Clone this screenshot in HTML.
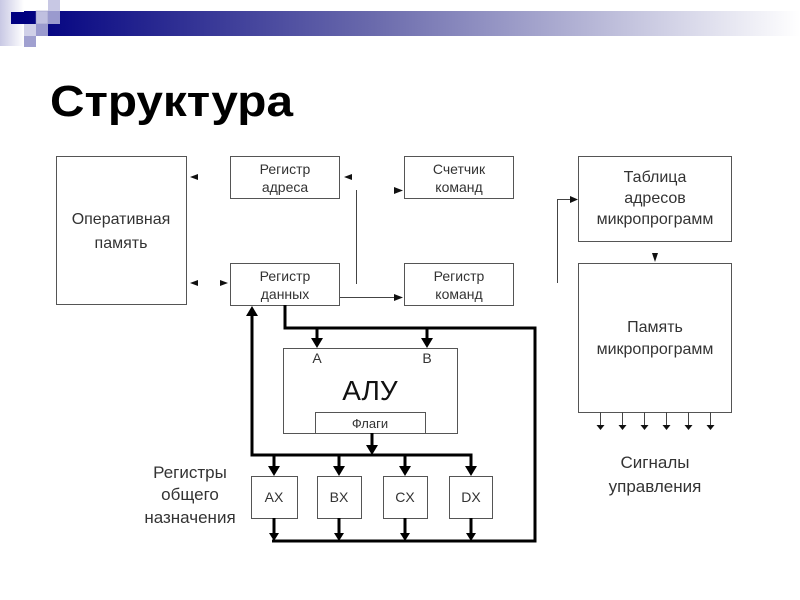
<!DOCTYPE html>
<html><head><meta charset="utf-8"><style>
html,body{margin:0;padding:0;background:#fff;width:800px;height:600px;overflow:hidden}
svg text{font-family:"Liberation Sans","DejaVu Sans",sans-serif;fill:#333}
</style></head><body>
<svg width="800" height="600" viewBox="0 0 800 600" xmlns="http://www.w3.org/2000/svg">
<defs>
<linearGradient id="g" x1="0" x2="1" y1="0" y2="0">
<stop offset="0" stop-color="#000080"/><stop offset="0.45" stop-color="#6a6aac"/><stop offset="1" stop-color="#ffffff"/>
</linearGradient>
<linearGradient id="g2" x1="0" x2="1"><stop offset="0" stop-color="#c8c8e4"/><stop offset="1" stop-color="#fff"/></linearGradient>
</defs>
<rect x="0" y="0" width="24" height="46" fill="url(#g2)"/>
<rect x="24" y="11" width="776" height="25" fill="url(#g)"/>
<rect x="11" y="12" width="13" height="12" fill="#000080"/>
<rect x="48" y="0" width="12" height="11" fill="#c8c8e4"/>
<rect x="36" y="11" width="12" height="13" fill="#c0c0e0" stroke="#9090c0" stroke-width="0.5"/>
<rect x="48" y="11" width="12" height="13" fill="#9a9ace"/>
<rect x="24" y="24" width="12" height="12" fill="#d0d0e8"/>
<rect x="36" y="24" width="12" height="12" fill="#9a9ace"/>
<rect x="24" y="36" width="12" height="11" fill="#a0a0d0"/>
<text x="50" y="116" font-size="44" font-weight="bold" style="fill:#000" textLength="243" lengthAdjust="spacingAndGlyphs">Структура</text>

<g fill="none" stroke="#555" stroke-width="1">
<rect x="56.5" y="156.5" width="130" height="148"/>
<rect x="230.5" y="156.5" width="109" height="42"/>
<rect x="404.5" y="156.5" width="109" height="42"/>
<rect x="230.5" y="263.5" width="109" height="42"/>
<rect x="404.5" y="263.5" width="109" height="42"/>
<rect x="578.5" y="156.5" width="153" height="85"/>
<rect x="578.5" y="263.5" width="153" height="149"/>
<rect x="283.5" y="348.5" width="174" height="85"/>
<rect x="315.5" y="412.5" width="110" height="21"/>
<rect x="251.5" y="476.5" width="46" height="42"/>
<rect x="317.5" y="476.5" width="44" height="42"/>
<rect x="383.5" y="476.5" width="44" height="42"/>
<rect x="449.5" y="476.5" width="43" height="42"/>
</g>
<g stroke="#444" stroke-width="1" fill="none">
<line x1="356.5" y1="190" x2="356.5" y2="284"/>
<line x1="340" y1="297.5" x2="398" y2="297.5"/>
<line x1="396" y1="190.5" x2="398" y2="190.5"/>
<polyline points="557.5,283 557.5,199.5 572,199.5"/>
<line x1="600.5" y1="412" x2="600.5" y2="426"/>
<line x1="622.5" y1="412" x2="622.5" y2="426"/>
<line x1="644.5" y1="412" x2="644.5" y2="426"/>
<line x1="666.5" y1="412" x2="666.5" y2="426"/>
<line x1="688.5" y1="412" x2="688.5" y2="426"/>
<line x1="710.5" y1="412" x2="710.5" y2="426"/>
</g>
<g fill="#111">
<polygon points="190,177 198,174 198,180"/>
<polygon points="190,283 198,280 198,286"/>
<polygon points="228,283 220,280 220,286"/>
<polygon points="344,177 352,174 352,180"/>
<polygon points="403,190.5 394,187 394,194"/>
<polygon points="403,297.5 394,294 394,301"/>
<polygon points="578,199.5 570,196 570,203"/>
<polygon points="655,262 652,253 658,253"/>
<polygon points="600.5,430 596.5,425 604.5,425"/>
<polygon points="622.5,430 618.5,425 626.5,425"/>
<polygon points="644.5,430 640.5,425 648.5,425"/>
<polygon points="666.5,430 662.5,425 670.5,425"/>
<polygon points="688.5,430 684.5,425 692.5,425"/>
<polygon points="710.5,430 706.5,425 714.5,425"/>
</g>
<g stroke="#000" stroke-width="3" fill="none">
<polyline points="285,305 285,328 535,328 535,541 272,541"/>
<line x1="317" y1="328" x2="317" y2="340"/>
<line x1="427" y1="328" x2="427" y2="340"/>
<polyline points="252,314 252,455 471,455 471,468"/>
<line x1="372" y1="433" x2="372" y2="446"/>
<line x1="274" y1="455" x2="274" y2="468"/>
<line x1="339" y1="455" x2="339" y2="468"/>
<line x1="405" y1="455" x2="405" y2="468"/>
<line x1="274" y1="518" x2="274" y2="534"/>
<line x1="339" y1="518" x2="339" y2="534"/>
<line x1="405" y1="518" x2="405" y2="534"/>
<line x1="471" y1="518" x2="471" y2="534"/>
</g>
<g fill="#000">
<polygon points="252,306 246,316 258,316"/>
<polygon points="317,348 311,338 323,338"/>
<polygon points="427,348 421,338 433,338"/>
<polygon points="372,455 366,445 378,445"/>
<polygon points="274,476 268,466 280,466"/>
<polygon points="339,476 333,466 345,466"/>
<polygon points="405,476 399,466 411,466"/>
<polygon points="471,476 465,466 477,466"/>
<polygon points="274,541 269,533 279,533"/>
<polygon points="339,541 334,533 344,533"/>
<polygon points="405,541 400,533 410,533"/>
<polygon points="471,541 466,533 476,533"/>
</g>
<g text-anchor="middle" font-size="14">
<text x="285" y="174">Регистр</text><text x="285" y="192">адреса</text>
<text x="459" y="174">Счетчик</text><text x="459" y="192">команд</text>
<text x="285" y="281">Регистр</text><text x="285" y="299">данных</text>
<text x="459" y="281">Регистр</text><text x="459" y="299">команд</text>
<text x="317" y="363">A</text><text x="427" y="363">B</text>
<text x="370" y="428" font-size="13">Флаги</text>
<text x="274" y="502">AX</text><text x="339" y="502">BX</text><text x="405" y="502">CX</text><text x="471" y="502">DX</text>
</g>
<g text-anchor="middle" font-size="16">
<text x="121" y="224">Оперативная</text><text x="121" y="248">память</text>
<text x="655" y="182">Таблица</text><text x="655" y="203">адресов</text><text x="655" y="224">микропрограмм</text>
<text x="655" y="332">Память</text><text x="655" y="354">микропрограмм</text>
<text x="370" y="400" font-size="28" style="fill:#111">АЛУ</text>
</g>
<g text-anchor="middle" font-size="17">
<text x="190" y="478">Регистры</text><text x="190" y="500">общего</text><text x="190" y="523">назначения</text>
<text x="655" y="468">Сигналы</text><text x="655" y="492">управления</text>
</g>
</svg>
</body></html>
